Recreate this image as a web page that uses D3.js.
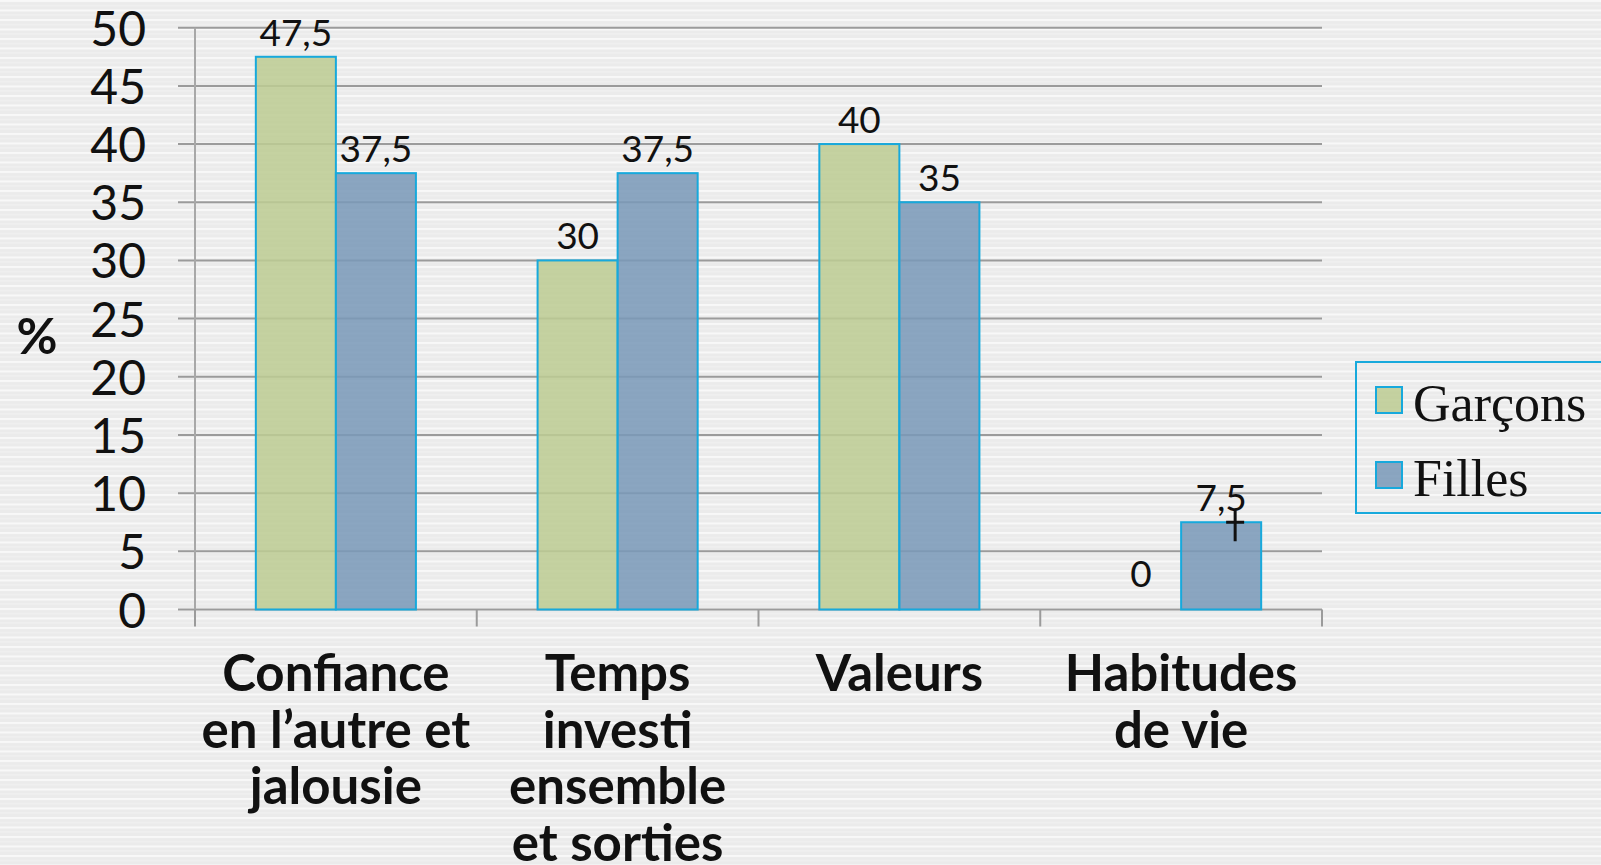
<!DOCTYPE html>
<html>
<head>
<meta charset="utf-8">
<script src="https://cdn.jsdelivr.net/npm/d3@7"></script>
<style>
  body { margin: 0; background: #ececec; overflow: hidden; }
  svg { display: block; }
</style>
</head>
<body>
<div id="chart"></div>
<script>
// chart data
const categories = [
  ["Confiance", "en l\u2019autre et", "jalousie"],
  ["Temps", "investi", "ensemble", "et sorties"],
  ["Valeurs"],
  ["Habitudes", "de vie"],
];
const seriesNames = ["Garçons", "Filles"];
const garcons = [47.5, 30, 40, 0];
const filles = [37.5, 37.5, 35, 7.5];
const yTicks = [0, 5, 10, 15, 20, 25, 30, 35, 40, 45, 50];

const colors = ["#bdcc93", "#7999b8"];
const edge = "#17a9dc";

const W = 1601, H = 865;
const plot = { left: 195, right: 1322, top: 27.7, bottom: 609.5 };

const svg = d3.select("#chart").append("svg")
  .attr("width", W).attr("height", H);

// striped background
const defs = svg.append("defs");
const pat = defs.append("pattern")
  .attr("id", "stripes")
  .attr("patternUnits", "userSpaceOnUse")
  .attr("width", 10).attr("height", 9.5);
pat.append("rect").attr("width", 10).attr("height", 9.5).attr("fill", "#ebebeb");
pat.append("rect").attr("y", 0).attr("width", 10).attr("height", 2).attr("fill", "#f8f8f8");
pat.append("rect").attr("y", 5).attr("width", 10).attr("height", 1.2).attr("fill", "#f2f2f2");
svg.append("rect").attr("width", W).attr("height", H).attr("fill", "url(#stripes)");

const idx = d3.range(categories.length);
const x0 = d3.scaleBand().domain(idx).range([plot.left, plot.right]).paddingInner(0).paddingOuter(0);
const x1 = d3.scaleBand().domain([0, 1]).range([0, x0.bandwidth()]).paddingOuter(0.76).paddingInner(0);
const y = d3.scaleLinear().domain([0, 50]).range([plot.bottom, plot.top]);

// gridlines (extend to the left as ticks)
svg.append("g")
  .selectAll("line")
  .data(yTicks)
  .join("line")
  .attr("x1", plot.left - 17)
  .attr("x2", plot.right)
  .attr("y1", d => y(d))
  .attr("y2", d => y(d))
  .attr("stroke", "#9b9b9b")
  .attr("stroke-width", 2);

// y axis line
svg.append("line")
  .attr("x1", plot.left).attr("x2", plot.left)
  .attr("y1", y(50)).attr("y2", plot.bottom)
  .attr("stroke", "#a8a8a8").attr("stroke-width", 2);

// x axis ticks between categories
const xTickPos = idx.map(i => x0(i)).concat([x0(idx.length - 1) + x0.bandwidth()]);
svg.append("g")
  .selectAll("line")
  .data(xTickPos)
  .join("line")
  .attr("x1", d => d).attr("x2", d => d)
  .attr("y1", plot.bottom).attr("y2", plot.bottom + 17)
  .attr("stroke", "#9b9b9b").attr("stroke-width", 2);

// y tick labels
svg.append("g")
  .selectAll("text")
  .data(yTicks)
  .join("text")
  .attr("x", 146)
  .attr("y", d => y(d) + 18)
  .attr("text-anchor", "end")
  .attr("font-family", "Lato, sans-serif")
  .attr("font-size", 48)
  .attr("fill", "#111")
  .text(d => d);

// % label
svg.append("text")
  .attr("x", 37).attr("y", 354)
  .attr("text-anchor", "middle")
  .attr("font-family", "Lato, sans-serif")
  .attr("font-weight", "bold")
  .attr("font-size", 50)
  .attr("fill", "#111")
  .text("%");

// bars
const rows = idx.map(i => [garcons[i], filles[i]]);
const groups = svg.append("g")
  .selectAll("g")
  .data(rows)
  .join("g")
  .attr("transform", (d, i) => `translate(${x0(i)},0)`);

groups.selectAll("rect")
  .data(d => d.map((v, s) => ({ v, s })))
  .join("rect")
  .filter(d => d.v > 0)
  .attr("x", d => x1(d.s))
  .attr("width", x1.bandwidth())
  .attr("y", d => y(d.v))
  .attr("height", d => y(0) - y(d.v))
  .attr("fill", d => colors[d.s])
  .attr("fill-opacity", 0.86)
  .attr("stroke", edge)
  .attr("stroke-width", 2);

// value labels
groups.selectAll("text")
  .data(d => d.map((v, s) => ({ v, s })))
  .join("text")
  .attr("x", d => x1(d.s) + x1.bandwidth() / 2)
  .attr("y", d => y(d.v) - (d.v === 0 ? 23 : 11))
  .attr("text-anchor", "middle")
  .attr("font-family", "Lato, sans-serif")
  .attr("font-size", 37)
  .attr("fill", "#111")
  .text(d => String(d.v).replace(".", ","));

// little cursor mark on the last Filles bar
const last = idx.length - 1;
const cx = x0(last) + x1(1) + x1.bandwidth() / 2 + 14;
const cy = y(filles[last]);
svg.append("path")
  .attr("d", `M${cx - 9},${cy} H${cx + 9} M${cx},${cy - 12} V${cy + 19}`)
  .attr("stroke", "#111").attr("stroke-width", 3);

// category labels
const catG = svg.append("g")
  .selectAll("text")
  .data(categories)
  .join("text")
  .attr("text-anchor", "middle")
  .attr("font-family", "Lato, sans-serif")
  .attr("font-weight", "bold")
  .attr("font-size", 51)
  .attr("fill", "#111");
catG.selectAll("tspan")
  .data((d, i) => d.map(t => ({ t, i })))
  .join("tspan")
  .attr("x", d => x0(d.i) + x0.bandwidth() / 2)
  .attr("y", (d, j) => 691 + j * 56.5)
  .text(d => d.t);

// legend
const legend = svg.append("g");
legend.append("rect")
  .attr("x", 1356).attr("y", 362)
  .attr("width", 300).attr("height", 151)
  .attr("fill", "none")
  .attr("stroke", edge).attr("stroke-width", 2);
const items = legend.selectAll("g")
  .data(seriesNames)
  .join("g")
  .attr("transform", (d, i) => `translate(1376,${387 + i * 75})`);
items.append("rect")
  .attr("width", 26).attr("height", 26)
  .attr("fill", (d, i) => colors[i])
  .attr("fill-opacity", 0.86)
  .attr("stroke", edge).attr("stroke-width", 2);
items.append("text")
  .attr("x", 37).attr("y", 34)
  .attr("font-family", "'Liberation Serif', serif")
  .attr("font-size", 52)
  .attr("fill", "#111")
  .text(d => d);
</script>
</body>
</html>
